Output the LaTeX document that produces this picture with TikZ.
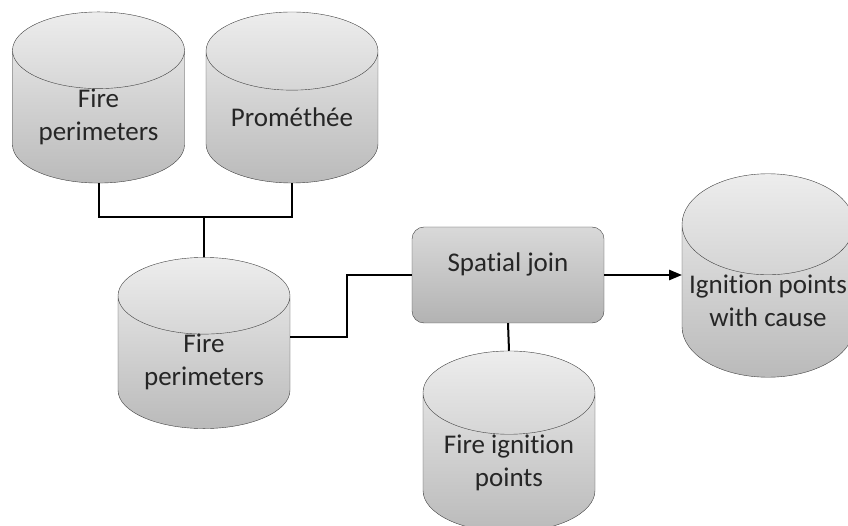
\documentclass[tikz,border=0pt]{standalone}
\usepackage{fontspec}
\setmainfont{Carlito}[Ligatures=NoCommon]
\usetikzlibrary{arrows,positioning,shapes.geometric}
\tikzset{
  store/.style={cylinder,shape border rotate=90,aspect=0.64,draw=black!75,
    top color=black!7,bottom color=black!27,minimum width=172pt,minimum height=171pt,
    align=center,inner sep=0pt,font=\fontsize{27}{33}\selectfont,text=black!85},
  process/.style={rectangle,rounded corners=12pt,draw=black!75,
    top color=black!15,bottom color=black!30,minimum width=192pt,minimum height=96pt,
    text height=19pt,text depth=26pt,font=\fontsize{27}{33}\selectfont,text=black!85},
  link/.style={line width=2pt,black}
}
\begin{document}
\begin{tikzpicture}[x=1pt,y=-1pt]
\useasboundingbox (0,0) rectangle (848,526);
% stores
\node (perimA) [store,anchor=shape center] at (98.5,97.5) {Fire\\perimeters};
\node (promethee) [store,anchor=shape center] at (292,97.5) {Prométhée};
\node (perimB) [store,anchor=shape center] at (204,343) {Fire\\perimeters};
\node (ignition) [store,anchor=shape center] at (509,441.5) {Fire ignition\\points};
\node (result) [store,anchor=shape center] at (768,275.5) {Ignition points\\with cause};
% process
\node (join) [process] at (508,275) {Spatial join};
%
\coordinate (merge) at (204,217);
\coordinate (bend) at (347,337);
\draw[link] (perimA.south) |- (merge) -| (promethee.south);
\draw[link] (merge) -- (perimB.north);
\draw[link] (bend -| perimB.east) -- (bend) |- (join.west);
\draw[link] (join.south) -- (ignition.north);
\draw[link,-triangle 45] (join.east) -- (join.east -| result.west);
\end{tikzpicture}
\end{document}
